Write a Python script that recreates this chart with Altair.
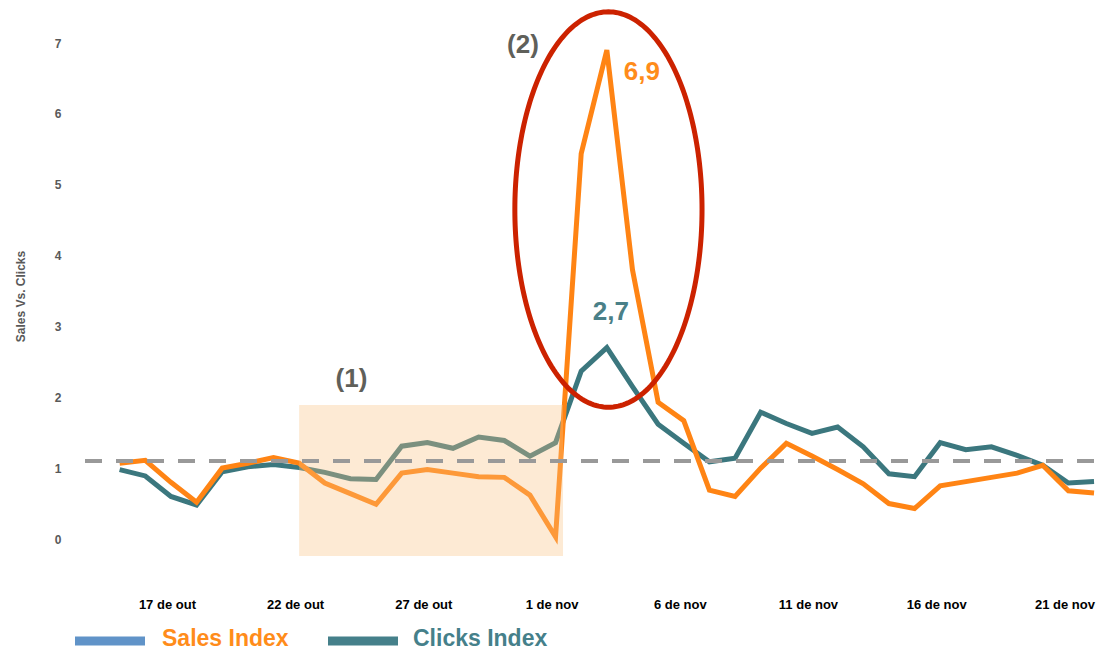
import altair as alt
import numpy as np
import pandas as pd

# Daily series, 15 Oct to 22 Nov
dates = pd.date_range("2023-10-15", "2023-11-22", freq="D", tz="UTC")
sales_index = [1.07, 1.11, 0.80, 0.52, 1.00, 1.07, 1.15, 1.07, 0.79, 0.64,
               0.49, 0.93, 0.98, 0.93, 0.88, 0.87, 0.62, 0.03, 5.44, 6.9,
               3.80, 1.93, 1.67, 0.69, 0.60, 1.00, 1.35, 1.17, 0.98, 0.78,
               0.50, 0.43, 0.75, 0.81, 0.87, 0.93, 1.04, 0.68, 0.65]
clicks_index = [0.98, 0.89, 0.60, 0.48, 0.95, 1.02, 1.05, 1.01, 0.94, 0.85,
                0.84, 1.31, 1.36, 1.28, 1.44, 1.39, 1.17, 1.36, 2.37, 2.7,
                2.15, 1.62, 1.35, 1.09, 1.14, 1.79, 1.63, 1.49, 1.58, 1.30,
                0.92, 0.88, 1.36, 1.26, 1.30, 1.18, 1.04, 0.79, 0.81]

tick_days = ["2023-10-17", "2023-10-22", "2023-10-27", "2023-11-01",
             "2023-11-06", "2023-11-11", "2023-11-16", "2023-11-21"]
tick_labels = ["17 de out", "22 de out", "27 de out", "1 de nov",
               "6 de nov", "11 de nov", "16 de nov", "21 de nov"]

reference_level = 1.1
y_ticks = [0, 1, 2, 3, 4, 5, 6, 7]

# highlighted period (1)
box_start, box_end = "2023-10-22T00:00:00Z", "2023-11-01T07:00:00Z"
box_low, box_high = -0.24, 1.89

# ellipse around the peak (2)
ell_center = pd.Timestamp("2023-11-03T01:30:00Z")
ell_rx_days, ell_cy, ell_ry = 3.65, 4.65, 2.79

ISO = "%Y-%m-%dT%H:%M:%SZ"
ORANGE = "#ff8414"
TEAL = "#3b777e"
FONT = "Liberation Sans"

df = pd.DataFrame({
    "date": dates.strftime(ISO),
    "sales": sales_index,
    "clicks": clicks_index,
})

t = np.linspace(0, 2 * np.pi, 241)
ellipse = pd.DataFrame({
    "date": [(ell_center + pd.Timedelta(days=float(ell_rx_days * np.cos(a)))).strftime(ISO) for a in t],
    "value": ell_cy + ell_ry * np.sin(t),
    "i": np.arange(len(t)),
})

peak = int(np.argmax(sales_index))
peaks = pd.DataFrame({
    "date": [dates[peak].strftime(ISO)],
    "sales": [sales_index[peak]],
    "clicks": [clicks_index[peak]],
    "sales_txt": [f"{sales_index[peak]:.1f}".replace(".", ",")],
    "clicks_txt": [f"{clicks_index[peak]:.1f}".replace(".", ",")],
})

box = pd.DataFrame({"x": [box_start], "x2": [box_end], "y": [box_low], "y2": [box_high]})

label_expr = ("[" + ",".join(f"'{s}'" for s in tick_labels) + "]"
              "[indexof([" + ",".join(f"'{d}'" for d in tick_days) + "], utcFormat(datum.value, '%Y-%m-%d'))]")

x_scale = alt.Scale(type="utc", domain=["2023-10-14T00:00:00Z", "2023-11-22T09:20:00Z"])
y_scale = alt.Scale(domain=[0, 7], nice=False, zero=False)

x_axis = alt.Axis(
    values=[alt.DateTime(year=int(d[:4]), month=int(d[5:7]), date=int(d[8:]), utc=True) for d in tick_days],
    labelExpr=label_expr, title=None, domain=False, ticks=False, tickSize=0, grid=False,
    labelPadding=59, labelFont=FONT, labelFontWeight="bold", labelFontSize=13,
    labelColor="#000000", labelFlush=False, labelOverlap=False, labelOffset=-4,
)
y_axis = alt.Axis(
    values=y_ticks, format="d", title="Sales Vs. Clicks", domain=False, ticks=False, tickSize=0,
    grid=False, labelPadding=33, labelFont=FONT, labelFontWeight="bold", labelFontSize=12,
    labelColor="#595959",
    titleFont=FONT, titleFontWeight="bold", titleFontSize=12, titleColor="#595959",
    titleX=-67, titleY=253,
)

base = alt.Chart(df)

clicks_line = base.mark_line(color=TEAL, strokeWidth=5).encode(
    x=alt.X("date:T", scale=x_scale, axis=x_axis),
    y=alt.Y("clicks:Q", scale=y_scale, axis=y_axis),
)
sales_line = base.mark_line(color=ORANGE, strokeWidth=5).encode(
    x=alt.X("date:T", scale=x_scale),
    y=alt.Y("sales:Q", scale=y_scale),
)

ellipse_line = alt.Chart(ellipse).mark_line(color="#cc2200", strokeWidth=5).encode(
    x=alt.X("date:T", scale=x_scale),
    y=alt.Y("value:Q", scale=y_scale),
    order="i:Q",
)

highlight = alt.Chart(box).mark_rect(color="#f9c181", opacity=0.34).encode(
    x=alt.X("x:T", scale=x_scale), x2="x2:T",
    y=alt.Y("y:Q", scale=y_scale), y2="y2:Q",
)

ref_rule = alt.Chart(pd.DataFrame({"v": [reference_level]})).mark_rule(
    color="#999999", strokeWidth=4, strokeDash=[17, 14]
).encode(
    y=alt.Y("v:Q", scale=y_scale), x=alt.value(-9), x2=alt.value(1010),
)

sales_label = alt.Chart(peaks).mark_text(
    font=FONT, fontWeight="bold", fontSize=26, color="#ff8c1a",
    align="center", baseline="alphabetic", dx=35, dy=30,
).encode(x=alt.X("date:T", scale=x_scale), y=alt.Y("sales:Q", scale=y_scale), text="sales_txt:N")

clicks_label = alt.Chart(peaks).mark_text(
    font=FONT, fontWeight="bold", fontSize=26, color="#4a8088",
    align="center", baseline="alphabetic", dx=4, dy=-28,
).encode(x=alt.X("date:T", scale=x_scale), y=alt.Y("clicks:Q", scale=y_scale), text="clicks_txt:N")

note_style = dict(font=FONT, fontWeight="bold", fontSize=26, color="#5f605a",
                  align="center", baseline="alphabetic")
note1 = alt.Chart(pd.DataFrame({"t": ["(1)"]})).mark_text(**note_style).encode(
    x=alt.value(257.5), y=alt.value(343.5), text="t:N")
note2 = alt.Chart(pd.DataFrame({"t": ["(2)"]})).mark_text(**note_style).encode(
    x=alt.value(429), y=alt.value(10), text="t:N")

# hand-drawn legend under the axis
legend_items = pd.DataFrame({"name": ["Sales Index", "Clicks Index"]})
sw_sales = alt.Chart(legend_items.iloc[[0]]).mark_rule(color="#6093c8", strokeWidth=9).encode(
    x=alt.value(-19), x2=alt.value(51), y=alt.value(598))
sw_clicks = alt.Chart(legend_items.iloc[[1]]).mark_rule(color="#45808a", strokeWidth=9).encode(
    x=alt.value(234), x2=alt.value(304), y=alt.value(598))
lt_sales = alt.Chart(legend_items.iloc[[0]]).mark_text(
    font=FONT, fontWeight="bold", fontSize=23, color="#ff8c1a", align="left", baseline="alphabetic"
).encode(x=alt.value(68), y=alt.value(603), text="name:N")
lt_clicks = alt.Chart(legend_items.iloc[[1]]).mark_text(
    font=FONT, fontWeight="bold", fontSize=23, color="#45808a", align="left", baseline="alphabetic"
).encode(x=alt.value(319), y=alt.value(603), text="name:N")

chart = alt.layer(
    clicks_line, sales_line, ellipse_line, highlight, ref_rule,
    sales_label, clicks_label, note1, note2,
    sw_sales, sw_clicks, lt_sales, lt_clicks,
).properties(
    width=1010, height=496,
    padding={"left": 94, "top": 43, "right": 0, "bottom": 112},
    autosize=alt.AutoSizeParams(type="none"),
    background="white",
).configure_view(stroke=None)

chart.save("out.html", embed_options={"renderer": "svg", "actions": False})
